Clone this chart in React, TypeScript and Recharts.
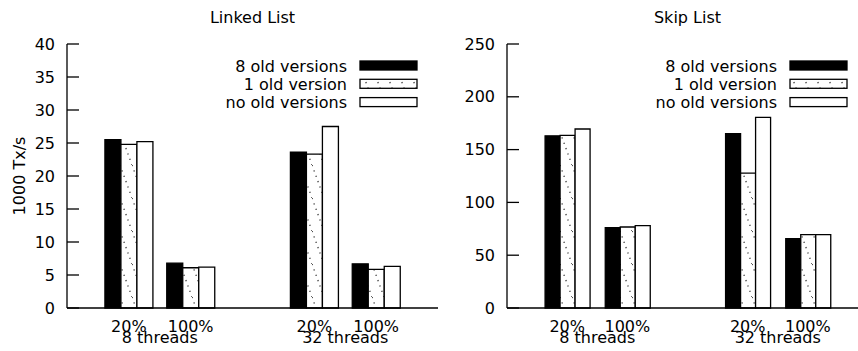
import React from 'react';
import { BarChart, Bar, XAxis, YAxis, Legend } from 'recharts';

// x slots: 20% / 100% for 8 threads, an empty gap, then 20% / 100% for 32 threads
const categories = ['20%', '100%', '', '20%', '100%'];
const threadLabels = ['8 threads', '', '', '32 threads', ''];
const seriesNames = ['8 old versions', '1 old version', 'no old versions'];

// Linked List, 1000 Tx/s
const linkedEight = [25.5, 6.8, null, 23.6, 6.7];
const linkedOne = [24.8, 6.1, null, 23.3, 5.85];
const linkedNone = [25.2, 6.2, null, 27.5, 6.3];
const linkedTicks = [0, 5, 10, 15, 20, 25, 30, 35, 40];

// Skip List, 1000 Tx/s
const skipEight = [163, 76, null, 165, 65.7];
const skipOne = [163.5, 76.7, null, 127.7, 69.5];
const skipNone = [169.5, 78, null, 180.5, 69.5];
const skipTicks = [0, 50, 100, 150, 200, 250];

const FONT = '"DejaVu Sans", sans-serif';
const FONT_SIZE = 16;
const H = 351;
const TOP = 44;
const BOTTOM = 43;
const AXIS_W = 67;
const TICK_LEN = 12;
const LABEL_GAP = 12;
const STROKE = 1.3;

const buildRows = (eight: (number | null)[], one: (number | null)[], none: (number | null)[]) =>
  categories.map((label, i) => ({ label, thread: threadLabels[i], eight: eight[i], one: one[i], none: none[i] }));

const linkedRows = buildRows(linkedEight, linkedOne, linkedNone);
const skipRows = buildRows(skipEight, skipOne, skipNone);

const fills = ['#000', 'url(#dots)', '#fff'];
const keys = ['eight', 'one', 'none'];

const DotPattern = () => (
  <defs>
    <pattern id="dots" width={12} height={33} patternUnits="userSpaceOnUse">
      <rect width={12} height={33} fill="#fff" />
      <line x1={0} y1={0} x2={12} y2={33} stroke="#222" strokeWidth={1.2} strokeDasharray="1.2 4.5" />
    </pattern>
  </defs>
);

const LeftTick = (props: any) => {
  const { x, y, payload } = props;
  return (
    <g>
      <text x={x} y={y} dy="0.35em" textAnchor="end" fontFamily={FONT} fontSize={FONT_SIZE} fill="#000">
        {payload.value}
      </text>
      <line x1={x + LABEL_GAP} x2={x + LABEL_GAP + TICK_LEN} y1={y} y2={y} stroke="#000" strokeWidth={STROKE} />
    </g>
  );
};

const RightTick = (props: any) => {
  const { x, y } = props;
  return <line x1={x - TICK_LEN} x2={x} y1={y} y2={y} stroke="#000" strokeWidth={STROKE} />;
};

const makeXTick = (rows: any[], slot: number) => (props: any) => {
  const { x, y, payload } = props;
  const thread = rows[payload.index]?.thread;
  return (
    <g fontFamily={FONT} fontSize={FONT_SIZE} fill="#000">
      <text x={x} y={y + 24} textAnchor="middle">{payload.value}</text>
      {thread ? <text x={x + slot / 2} y={y + 35} textAnchor="middle">{thread}</text> : null}
    </g>
  );
};

interface PanelProps {
  title: string;
  rows: any[];
  ticks: number[];
  width: number;
  barSize: number;
  yLabel?: string;
}

const Panel: React.FC<PanelProps> = ({ title, rows, ticks, width, barSize, yLabel }) => {
  const plotRight = width - 2;
  const plotW = plotRight - AXIS_W;
  const slot = plotW / 6;
  const domain = [0, ticks[ticks.length - 1]];

  const overlay = () => (
    <svg width={width} height={H} style={{ display: 'block' }} fontFamily={FONT} fontSize={FONT_SIZE}>
      <text x={(AXIS_W + plotRight) / 2} y={23} textAnchor="middle" fill="#000">{title}</text>
      {yLabel ? (
        <text x={25} y={176} transform="rotate(-90 25 176)" textAnchor="middle" fill="#000">{yLabel}</text>
      ) : null}
      {seriesNames.map((name, i) => {
        const cy = 65.5 + i * 18.3;
        return (
          <g key={name}>
            <text x={plotRight - 91} y={cy + 6} textAnchor="end" fill="#000">{name}</text>
            <rect x={plotRight - 78} y={cy - 4.5} width={57} height={9} fill={fills[i]} stroke="#000" strokeWidth={STROKE} />
          </g>
        );
      })}
    </svg>
  );

  return (
    <BarChart
      width={width}
      height={H}
      data={rows}
      margin={{ top: TOP, right: 2, left: 0, bottom: 0 }}
      barSize={barSize}
      barGap={0}
    >
      <DotPattern />
      <XAxis
        xAxisId="main"
        dataKey="label"
        height={BOTTOM}
        interval={0}
        tickLine={false}
        tickSize={0}
        tickMargin={0}
        padding={{ left: slot / 2, right: slot / 2 }}
        axisLine={{ stroke: '#000', strokeWidth: STROKE }}
        tick={makeXTick(rows, slot)}
      />
      <XAxis
        xAxisId="top"
        dataKey="label"
        orientation="top"
        height={0}
        tick={false}
        tickLine={false}
        axisLine={{ stroke: '#000', strokeWidth: STROKE }}
      />
      <YAxis
        yAxisId="main"
        width={AXIS_W}
        domain={domain}
        ticks={ticks}
        interval={0}
        tickLine={false}
        tickSize={0}
        tickMargin={LABEL_GAP}
        axisLine={{ stroke: '#000', strokeWidth: STROKE }}
        tick={<LeftTick />}
      />
      <YAxis
        yAxisId="mirror"
        orientation="right"
        width={0}
        domain={domain}
        ticks={ticks}
        interval={0}
        tickLine={false}
        tickSize={0}
        tickMargin={0}
        axisLine={{ stroke: '#000', strokeWidth: STROKE }}
        tick={<RightTick />}
      />
      <Legend
        layout="horizontal"
        verticalAlign="middle"
        align="center"
        content={overlay}
        wrapperStyle={{ left: 0, top: 0, width, height: H }}
      />
      {keys.map((k, i) => (
        <Bar
          key={k}
          xAxisId="main"
          yAxisId="main"
          dataKey={k}
          name={seriesNames[i]}
          fill={fills[i]}
          stroke="#000"
          strokeWidth={STROKE}
          isAnimationActive={false}
        />
      ))}
    </BarChart>
  );
};

const App: React.FC = () => (
  <div style={{ position: 'absolute', left: 0, top: 0, width: 858, height: H, overflow: 'hidden', background: '#fff' }}>
    <div style={{ position: 'absolute', left: 0, top: 0 }}>
      <Panel title="Linked List" rows={linkedRows} ticks={linkedTicks} width={440} barSize={16} yLabel="1000 Tx/s" />
    </div>
    <div style={{ position: 'absolute', left: 440, top: 0 }}>
      <Panel title="Skip List" rows={skipRows} ticks={skipTicks} width={430} barSize={15} />
    </div>
  </div>
);

export default App;
